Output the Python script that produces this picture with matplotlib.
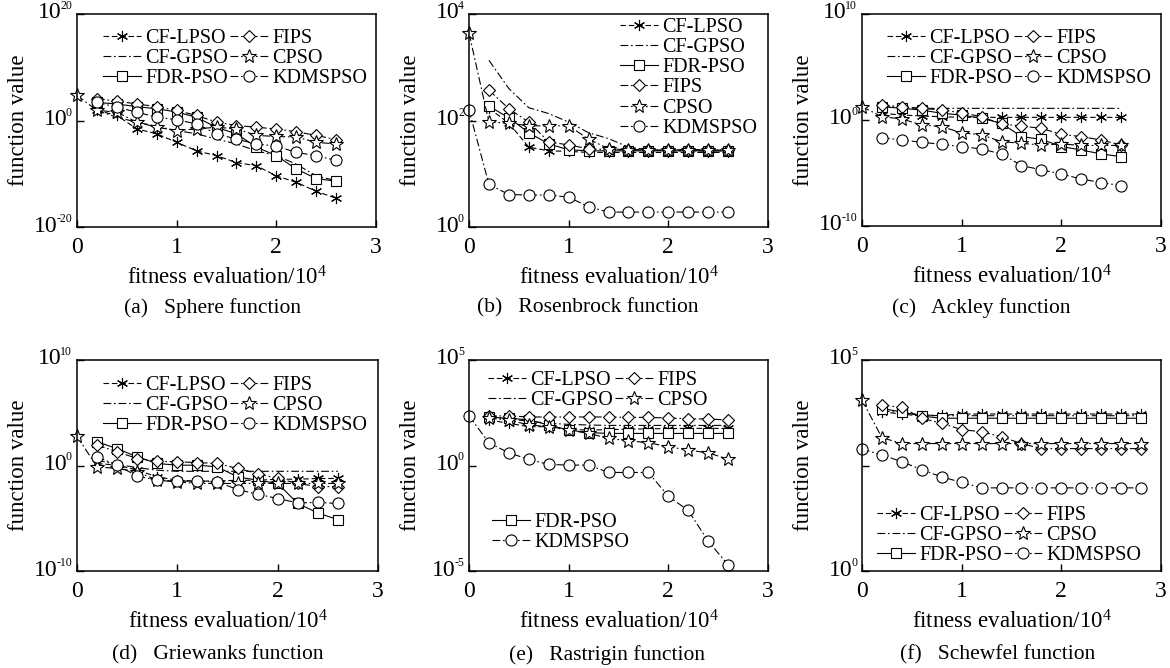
import numpy as np
import matplotlib
matplotlib.use("Agg")
import matplotlib.pyplot as plt
from matplotlib.transforms import offset_copy

plt.rcParams['font.family'] = ['Liberation Serif', 'DejaVu Serif']
plt.rcParams['mathtext.fontset'] = 'custom'
plt.rcParams['mathtext.rm'] = 'Liberation Serif'
plt.rcParams['mathtext.it'] = 'Liberation Serif:italic'

nan = np.nan
names = ['CF-LPSO', 'CF-GPSO', 'FDR-PSO', 'FIPS', 'CPSO', 'KDMSPSO']

# fitness evaluations (x 10^4)
evals = [0, 0.2, 0.4, 0.6, 0.8, 1.0, 1.2, 1.4, 1.6, 1.8, 2.0, 2.2, 2.4, 2.6]
evals_f = [0, 0.2, 0.4, 0.6, 0.8, 1.0, 1.2, 1.4, 1.6, 1.8, 2.0, 2.2, 2.4, 2.6, 2.8]

# log10(function value)
# (a) Sphere
a_cflpso = [nan, 1.9, 0.94, -1.57, -2.5, -4.1, -5.7, -6.6, -7.9, -8.5, -10.4, -11.6, -13.3, -14.6]
a_cfgpso = [nan, 1.9, 0.6, -0.3, -1.1, -1.9, -2.5, -3.5, -4.4, -5.7, -6.6, -8.2, -10.4, -11.3]
a_fdr = [nan, 3.4, 3.1, 2.6, 2.2, 1.6, 0.6, -1.3, -2.5, -5.0, -6.6, -9.1, -10.9, -11.4]
a_fips = [nan, 4.1, 3.65, 3.1, 2.6, 1.9, 0.94, -0.3, -0.94, -1.26, -1.6, -2.1, -2.8, -3.6]
a_cpso = [4.7, 1.9, 1.57, -0.3, -1.26, -1.9, -1.57, -1.26, -1.57, -2.8, -3.0, -3.1, -4.1, -4.4]
a_kdm = [nan, 3.4, 2.5, 1.57, 0.63, 0.13, -0.63, -2.5, -3.5, -4.4, -4.8, -6.0, -6.6, -7.5]

# (b) Rosenbrock
b_cflpso = [nan, 2.23, 1.95, 1.5, 1.43, 1.42, 1.4, 1.4, 1.4, 1.4, 1.4, 1.4, 1.4, 1.4]
b_cfgpso = [nan, 3.13, 2.6, 2.24, 2.13, 1.97, 1.77, 1.66, 1.5, 1.45, 1.43, 1.43, 1.43, 1.43]
b_fdr = [nan, 2.27, 2.05, 1.77, 1.56, 1.45, 1.43, 1.43, 1.43, 1.43, 1.43, 1.43, 1.43, 1.43]
b_fips = [nan, 2.57, 2.22, 1.97, 1.6, 1.54, 1.47, 1.45, 1.45, 1.45, 1.45, 1.45, 1.45, 1.45]
b_cpso = [3.64, 1.97, 1.95, 1.9, 1.9, 1.9, 1.65, 1.47, 1.45, 1.45, 1.45, 1.45, 1.45, 1.45]
b_kdm = [2.2, 0.8, 0.61, 0.6, 0.6, 0.56, 0.38, 0.28, 0.28, 0.28, 0.28, 0.28, 0.28, 0.28]

# (c) Ackley
c_cflpso = [nan, 0.63, 0.47, 0.38, 0.31, 0.25, 0.25, 0.25, 0.25, 0.25, 0.25, 0.25, 0.25, 0.25]
c_cfgpso = [nan, 1.3, 1.15, 1.1, 1.1, 1.1, 1.1, 1.1, 1.1, 1.1, 1.1, 1.1, 1.1, 1.1]
c_fdr = [nan, 1.26, 1.1, 0.94, 0.63, 0.47, 0.16, -0.31, -1.57, -1.82, -2.5, -2.83, -3.2, -3.46]
c_fips = [nan, 1.42, 1.26, 1.1, 0.94, 0.69, 0.31, -0.38, -0.57, -0.79, -1.35, -1.57, -1.89, -2.36]
c_cpso = [1.26, 0.31, 0.1, -0.47, -0.63, -1.2, -1.4, -2.04, -2.2, -2.36, -2.26, -2.4, -2.4, -2.4]
c_kdm = [nan, -1.67, -1.89, -2.1, -2.3, -2.5, -2.74, -3.2, -4.3, -4.7, -5.1, -5.57, -5.9, -6.2]

# (d) Griewanks
d_cflpso = [nan, 0.19, 0.03, -0.44, -1.08, -1.39, -1.49, -1.46, -1.4, -1.4, -1.3, -1.3, -1.23, -1.23]
d_cfgpso = [nan, 0.5, 0.1, -0.2, -0.45, -0.55, -0.55, -0.55, -0.55, -0.55, -0.55, -0.55, -0.55, -0.55]
d_fdr = [nan, 2.25, 1.6, 0.82, 0.19, 0.03, 0.03, -0.13, -1.08, -1.39, -1.7, -3.6, -4.5, -5.13]
d_fips = [nan, 1.93, 1.3, 0.66, 0.41, 0.35, 0.28, 0.19, -0.28, -0.76, -1.23, -1.7, -2.0, -2.0]
d_cpso = [2.78, -0.13, -0.28, -0.6, -1.4, -1.55, -1.7, -1.7, -1.7, -1.7, -1.7, -1.7, -1.7, -1.7]
d_kdm = [nan, 0.82, 0.03, -1.01, -1.39, -1.49, -1.46, -1.55, -2.28, -2.72, -3.13, -3.54, -3.5, -3.6]

# (e) Rastrigin
e_cflpso = [nan, 2.16, 2.0, 1.84, 1.84, 1.71, 1.68, 1.7, 1.72, 1.74, 1.75, 1.76, 1.76, 1.76]
e_cfgpso = [nan, 2.3, 2.2, 2.1, 2.0, 1.95, 1.92, 1.9, 1.9, 1.9, 1.9, 1.9, 1.9, 1.9]
e_fdr = [nan, 2.29, 2.24, 2.16, 1.92, 1.68, 1.56, 1.52, 1.52, 1.52, 1.52, 1.52, 1.52, 1.52]
e_fips = [nan, 2.35, 2.35, 2.3, 2.3, 2.3, 2.3, 2.3, 2.28, 2.28, 2.25, 2.22, 2.2, 2.16]
e_cpso = [nan, 2.24, 2.16, 1.92, 1.84, 1.68, 1.52, 1.29, 1.17, 1.08, 0.89, 0.73, 0.6, 0.3]
e_kdm = [2.35, 1.08, 0.6, 0.29, 0.05, 0.02, 0.02, -0.33, -0.33, -0.33, -1.46, -2.13, -3.59, -4.71]

# (f) Schewfel
f_cflpso = [nan, 3.77, 3.72, 3.67, 3.69, 3.72, 3.72, 3.72, 3.72, 3.72, 3.72, 3.72, 3.72, 3.72, 3.72]
f_cfgpso = [nan, 3.8, 3.75, 3.7, 3.68, 3.68, 3.68, 3.68, 3.68, 3.68, 3.68, 3.68, 3.68, 3.68, 3.68]
f_fdr = [nan, 3.85, 3.77, 3.67, 3.62, 3.62, 3.62, 3.62, 3.62, 3.62, 3.62, 3.62, 3.62, 3.62, 3.62]
f_fips = [nan, 3.93, 3.88, 3.62, 3.5, 3.35, 3.3, 3.18, 3.02, 2.9, 2.9, 2.9, 2.9, 2.9, 2.9]
f_cpso = [4.05, 3.16, 3.02, 3.02, 3.02, 3.02, 3.02, 3.02, 3.02, 3.02, 3.02, 3.02, 3.02, 3.02, 3.02]
f_kdm = [2.89, 2.75, 2.59, 2.4, 2.23, 2.1, 1.97, 1.97, 1.97, 1.97, 1.97, 1.97, 1.97, 1.97, 1.97]

captions = ['(a)   Sphere function', '(b)   Rosenbrock function', '(c)   Ackley function',
            '(d)   Griewanks function', '(e)   Rastrigin function', '(f)   Schewfel function']
# y tick exponents (labelled) for each panel
yexp = [[-20, 0, 20], [0, 2, 4], [-10, 0, 10], [-10, 0, 10], [-5, 0, 5], [0, 5]]
xtick_labels = ['0', '1', '2', '3']

panels = [
    (evals, [a_cflpso, a_cfgpso, a_fdr, a_fips, a_cpso, a_kdm]),
    (evals, [b_cflpso, b_cfgpso, b_fdr, b_fips, b_cpso, b_kdm]),
    (evals, [c_cflpso, c_cfgpso, c_fdr, c_fips, c_cpso, c_kdm]),
    (evals, [d_cflpso, d_cfgpso, d_fdr, d_fips, d_cpso, d_kdm]),
    (evals, [e_cflpso, e_cfgpso, e_fdr, e_fips, e_cpso, e_kdm]),
    (evals_f, [f_cflpso, f_cfgpso, f_fdr, f_fips, f_cpso, f_kdm]),
]

DD = (0, (7, 2.5, 1.5, 2.5))
styles = [
    dict(ls=(0, (5, 2.5)), marker=(6, 2, 0), ms=8),
    dict(ls=DD, marker='None', ms=0),
    dict(ls='-', marker='s', ms=7),
    dict(ls=DD, marker='D', ms=6.5),
    dict(ls=DD, marker='*', ms=10),
    dict(ls=DD, marker='o', ms=8),
]

W, H = 1170, 668
fig = plt.figure(figsize=(W / 100, H / 100), dpi=100)
renderer = fig.canvas.get_renderer()

# axes boxes in pixels: left, top, right, bottom
boxes = [(77, 14, 376, 227), (469, 14, 768, 227), (862, 14, 1161, 226),
         (77, 360, 378, 571), (469, 360, 768, 571), (862, 360, 1161, 571)]
cap_pos = [(213, 308), (588, 308), (981, 308), (218, 655), (607, 655), (998, 655)]


def legend_kw(ncol, x, y):
    return dict(ncol=ncol, frameon=False, loc='upper left', bbox_to_anchor=(x, y),
                borderpad=0, borderaxespad=0, fontsize=14.5, handlelength=1.9,
                handletextpad=0.2, labelspacing=0.05, columnspacing=0.1)


for i, ((xs, series), box) in enumerate(zip(panels, boxes)):
    l, t, r, b = box
    ax = fig.add_axes([l / W, (H - b) / H, (r - l) / W, (b - t) / H])
    lines = []
    for name, vals, st in zip(names, series, styles):
        y = 10.0 ** np.asarray(vals, dtype=float)
        ln, = ax.plot(xs, y, color='black', lw=0.8, ls=st['ls'], marker=st['marker'],
                      ms=st['ms'], mfc='white', mec='black', mew=0.8, clip_on=False,
                      label=name)
        lines.append(ln)
    ax.set_yscale('log')
    ax.set_ylim(10.0 ** yexp[i][0], 10.0 ** yexp[i][-1])
    ax.set_xlim(0, 3)
    ax.set_xticks([0, 1, 2, 3])
    ax.set_xticklabels(xtick_labels)
    yt = [10.0 ** e for e in yexp[i]]
    if i == 5:
        yt = [1.0, 10.0 ** 2.5, 1e5]
    ax.set_yticks(yt)
    ax.set_yticklabels([''] * len(yt))
    ax.yaxis.set_minor_locator(matplotlib.ticker.NullLocator())
    ax.tick_params(direction='in', length=5, width=1.0, labelsize=17, top=False, right=False)
    ax.tick_params(axis='x', pad=7)
    for sp in ax.spines.values():
        sp.set_linewidth(1.1)

    # y tick labels: "10" with a small raised exponent
    trans = ax.get_yaxis_transform()
    for e in yexp[i]:
        yv = 10.0 ** e
        es = ('-%d' % abs(e)) if e < 0 else '%d' % e
        te = ax.text(0, yv, es, fontsize=8.5, ha='right', va='center',
                     transform=offset_copy(trans, fig=fig, x=-5, y=8, units='dots'))
        w = te.get_window_extent(renderer).width
        ax.text(0, yv, '10', fontsize=17, ha='right', va='center',
                transform=offset_copy(trans, fig=fig, x=-5 - w + 1.5, y=1, units='dots'))

    ax.set_xlabel(r'fitness evaluation/$\mathregular{10^4}$', fontsize=16.5, labelpad=6)
    ax.set_ylabel('function value', fontsize=16.5)
    ax.yaxis.set_label_coords(-0.16, 0.5)

    if i == 0:
        ax.legend(handles=lines, **legend_kw(2, 0.087, 0.93))
    elif i == 1:
        ax.legend(handles=lines, **legend_kw(1, 0.505, 0.981))
    elif i == 2:
        ax.legend(handles=lines, **legend_kw(2, 0.084, 0.929))
    elif i == 3:
        ax.legend(handles=lines, **legend_kw(2, 0.086, 0.924))
    elif i == 4:
        top = [lines[0], lines[1], lines[3], lines[4]]
        leg1 = ax.legend(handles=top, **legend_kw(2, 0.064, 0.948))
        ax.add_artist(leg1)
        ax.legend(handles=[lines[2], lines[5]], **legend_kw(1, 0.077, 0.275))
    else:
        ax.legend(handles=lines, **legend_kw(2, 0.05, 0.308))

    cx, cy = cap_pos[i]
    fig.text(cx / W, 1 - cy / H, captions[i], fontsize=15.5, ha='center', va='center')

fig.savefig('out.png', dpi=100)
